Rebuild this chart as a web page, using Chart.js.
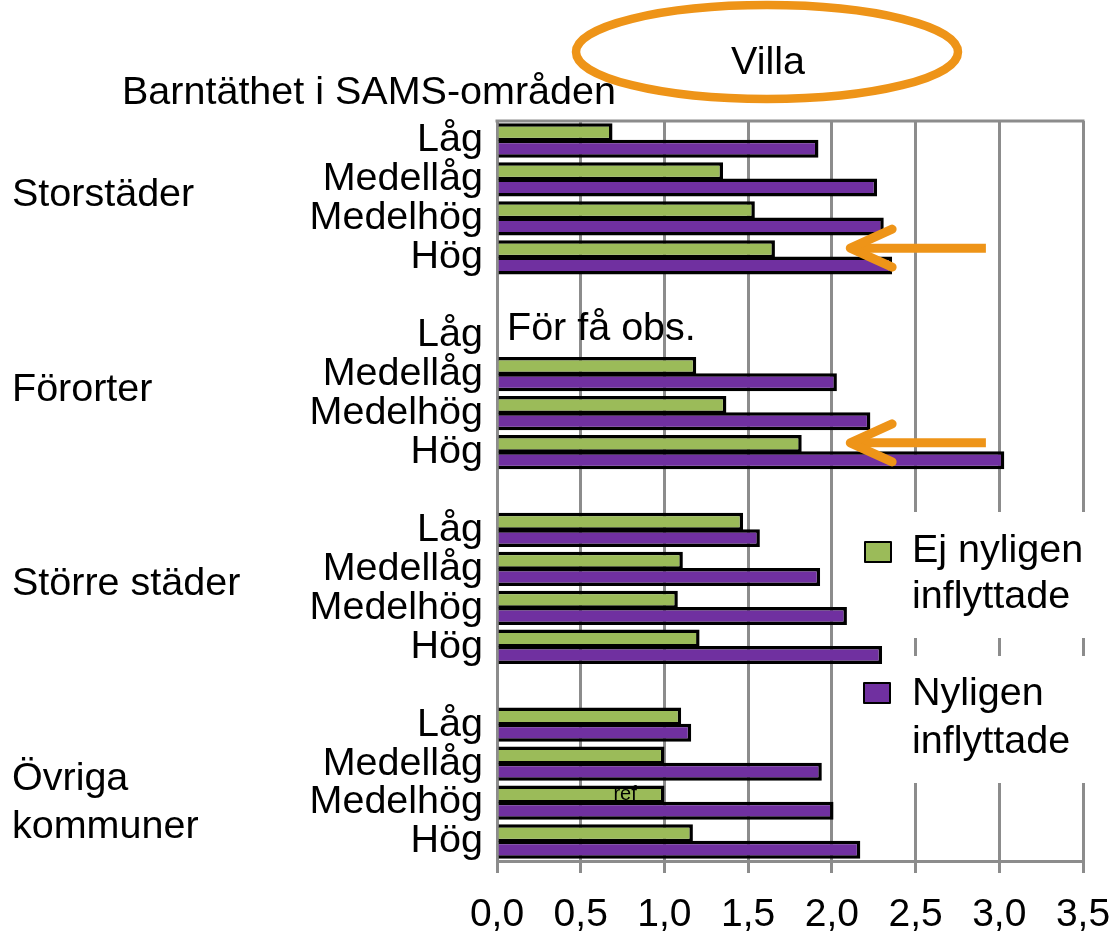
<!DOCTYPE html>
<html><head><meta charset="utf-8">
<script src="https://cdn.jsdelivr.net/npm/chart.js@4"></script>
<style>html,body{margin:0;padding:0;background:#fff}#wrap{width:1114px;height:950px;position:relative}</style>
</head><body><div id="wrap"><canvas id="c" width="1114" height="950"></canvas></div>
<script>
// ---- data ----
const groups = [['Storstäder'], ['Förorter'], ['Större städer'], ['Övriga', 'kommuner']];
const levels = ['Låg', 'Medellåg', 'Medelhög', 'Hög'];
const seriesNames = ['Ej nyligen inflyttade', 'Nyligen inflyttade'];
const ejNyligen = [0.69, 1.35, 1.54, 1.66,  null, 1.19, 1.37, 1.82,  1.47, 1.11, 1.08, 1.21,  1.10, 1.00, 1.00, 1.17];
const nyligen   = [1.92, 2.27, 2.31, 2.36,  null, 2.03, 2.23, 3.03,  1.57, 1.93, 2.09, 2.30,  1.16, 1.94, 2.01, 2.17];
const xTickValues = [0, 0.5, 1, 1.5, 2, 2.5, 3, 3.5];
const chartTitle = 'Barntäthet i SAMS-områden';
const circledLabel = 'Villa';
const fewObsNote = 'För få obs.';
const fewObsRow = [1, 0];     // [group, level]
const refNote = 'ref';
const refRow = [3, 2];        // [group, level]
const arrowRows = [[0, 3], [1, 3]];

// ---- build category axis with spacer rows between groups ----
const labels = [], dEj = [], dNy = [];
groups.forEach((g, gi) => {
  levels.forEach((l, li) => {
    labels.push(l);
    dEj.push(ejNyligen[gi * 4 + li]);
    dNy.push(nyligen[gi * 4 + li]);
  });
  if (gi < groups.length - 1) { labels.push(''); dEj.push(null); dNy.push(null); }
});
const rowIndex = (g, l) => g * 5 + l;

const FONT = "'Liberation Sans', Arial, sans-serif";
const FS = 39.5;
const GREEN = '#9BBB59', PURPLE = '#7030A0', GRID = '#8c8c8c', ORANGE = '#EE9418';

const overlay = {
  id: 'overlay',
  beforeDatasetsDraw(chart) {
    const ctx = chart.ctx, a = chart.chartArea;
    ctx.save();
    ctx.strokeStyle = GRID; ctx.lineWidth = 3;
    ctx.beginPath(); ctx.moveTo(a.left - 1.5, a.top); ctx.lineTo(a.right + 1.5, a.top); ctx.stroke();
    ctx.fillStyle = '#fff';
    ctx.fillRect(852, 512, 262, 126);
    ctx.fillRect(852, 656, 262, 127);
    ctx.restore();
  },
  afterDatasetsDraw(chart) {
    const ctx = chart.ctx, xs = chart.scales.x, ys = chart.scales.y;
    ctx.save();
    ctx.fillStyle = '#000';
    ctx.font = FS + 'px ' + FONT;
    ctx.textAlign = 'left'; ctx.textBaseline = 'middle';
    groups.forEach((lines, gi) => {
      const yc = (ys.getPixelForValue(rowIndex(gi, 0)) + ys.getPixelForValue(rowIndex(gi, 3))) / 2;
      if (lines.length === 1) ctx.fillText(lines[0], 12, yc - 4);
      else lines.forEach((t, i) => ctx.fillText(t, 12, yc - 4 + i * 48));
    });
    ctx.textBaseline = 'alphabetic';
    ctx.fillText(chartTitle, 122, 104);
    ctx.textAlign = 'center';
    ctx.fillText(circledLabel, 768, 74);
    ctx.strokeStyle = ORANGE; ctx.lineWidth = 8.5;
    ctx.beginPath(); ctx.ellipse(767, 52, 191, 47, 0, 0, Math.PI * 2); ctx.stroke();
    ctx.textAlign = 'left'; ctx.textBaseline = 'middle';
    ctx.fillText(fewObsNote, xs.getPixelForValue(0) + 10, ys.getPixelForValue(rowIndex(...fewObsRow)) - 6);
    const refEl = chart.getDatasetMeta(0).data[rowIndex(...refRow)];
    ctx.font = '20px ' + FONT; ctx.textAlign = 'center';
    ctx.fillText(refNote, xs.getPixelForValue(0.765), refEl.y);
    ctx.strokeStyle = ORANGE; ctx.lineWidth = 9; ctx.lineJoin = 'round';
    arrowRows.forEach(r => {
      const el = chart.getDatasetMeta(0).data[rowIndex(...r)];
      const y = el.y - 1;
      const tip = xs.getPixelForValue(2.11), end = xs.getPixelForValue(2.92), hx = xs.getPixelForValue(2.36);
      ctx.lineCap = 'butt';
      ctx.beginPath(); ctx.moveTo(end, y); ctx.lineTo(tip + 6, y); ctx.stroke();
      ctx.lineCap = 'round';
      ctx.beginPath(); ctx.moveTo(hx, y - 19); ctx.lineTo(tip, y); ctx.lineTo(hx, y + 19); ctx.stroke();
    });
    const items = [
      { box: [865, 542], lines: [551, 597] },
      { box: [864, 683], lines: [694, 742] }
    ];
    ctx.font = FS + 'px ' + FONT; ctx.textAlign = 'left'; ctx.textBaseline = 'middle';
    chart.data.datasets.forEach((ds, i) => {
      const it = items[i];
      ctx.fillStyle = ds.backgroundColor; ctx.fillRect(it.box[0], it.box[1], 26, 20);
      ctx.strokeStyle = '#000'; ctx.lineWidth = 2; ctx.strokeRect(it.box[0], it.box[1], 26, 20);
      const k = ds.label.lastIndexOf(' ');
      const parts = [ds.label.slice(0, k), ds.label.slice(k + 1)];
      ctx.fillStyle = '#000';
      parts.forEach((p, j) => ctx.fillText(p, 912, it.lines[j]));
    });
    ctx.restore();
  }
};

new Chart(document.getElementById('c'), {
  type: 'bar',
  data: {
    labels,
    datasets: [
      { label: seriesNames[0], data: dEj, backgroundColor: GREEN, borderColor: '#000', borderWidth: 3.5 },
      { label: seriesNames[1], data: dNy, backgroundColor: PURPLE, borderColor: '#000', borderWidth: 3.5 }
    ]
  },
  options: {
    indexAxis: 'y',
    responsive: false,
    animation: false,
    devicePixelRatio: 1,
    categoryPercentage: 0.84,
    barPercentage: 1.1,
    layout: { padding: { top: 121, right: 31, left: 0, bottom: 0 } },
    plugins: { legend: { display: false }, title: { display: false }, tooltip: { enabled: false } },
    scales: {
      x: {
        min: 0, max: 3.5,
        afterBuildTicks: s => { s.ticks = xTickValues.map(v => ({ value: v })); },
        afterFit: s => { s.height = 89; s.paddingLeft = 0; s.paddingRight = 0; },
        grid: { color: GRID, lineWidth: 3, tickLength: 12, drawTicks: true },
        border: { display: true, color: GRID, width: 3 },
        ticks: {
          autoSkip: false, maxRotation: 0, padding: 19, color: '#000',
          font: { family: FONT, size: 39, lineHeight: 1.2 },
          callback: v => Number(v).toFixed(1).replace('.', ',')
        }
      },
      y: {
        afterFit: s => { s.width = 497; s.paddingTop = 0; s.paddingBottom = 0; },
        grid: { display: false },
        border: { display: false },
        ticks: {
          autoSkip: false, padding: 6, color: '#000',
          font: { family: FONT, size: FS, lineHeight: 1.0 }
        }
      }
    }
  },
  plugins: [overlay]
});
</script>
</body></html>
